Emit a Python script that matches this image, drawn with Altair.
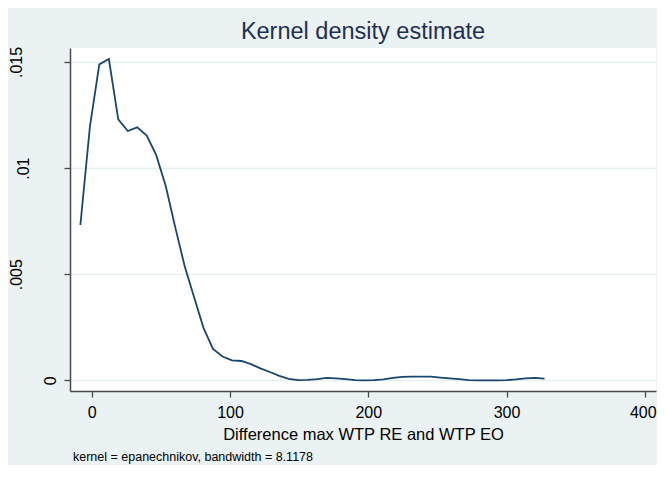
import altair as alt
import pandas as pd

# Evaluation points of the kernel density estimate (x) and density values (y)
x_points = [-8.2, -1.3, 5.5, 12.4, 19.2, 26.1, 32.9, 39.8, 46.6, 53.5,
            60.3, 67.2, 74.0, 80.9, 87.7, 94.6, 101.4, 108.3, 115.1, 122.0,
            128.8, 135.7, 142.5, 149.4, 156.2, 163.1, 169.9, 176.8, 183.6, 190.5,
            197.3, 204.2, 211.0, 217.9, 224.7, 231.6, 238.4, 245.3, 252.1, 259.0,
            265.8, 272.7, 279.5, 286.4, 293.2, 300.1, 306.9, 313.8, 320.6, 327.5]
density = [0.00732, 0.01195, 0.01489, 0.01514, 0.01230, 0.01175, 0.01192, 0.01153, 0.01062, 0.00917,
           0.00724, 0.00539, 0.00393, 0.00246, 0.00148, 0.00112, 0.00094, 0.00091, 0.00076, 0.00056,
           0.00039, 0.00021, 0.00007, 0.00001, 0.00002, 0.00006, 0.00011, 0.00009, 0.00006, 0.00001,
           0.00000, 0.00001, 0.00004, 0.00011, 0.00016, 0.00017, 0.00017, 0.00017, 0.00013, 0.00009,
           0.00006, 0.00001, 0.00000, 0.00000, 0.00000, 0.00001, 0.00004, 0.00009, 0.00011, 0.00008]

x_ticks = [0, 100, 200, 300, 400]
y_ticks = [0, 0.005, 0.01, 0.015]
y_tick_labels = ["0", ".005", ".01", ".015"]

title_text = "Kernel density estimate"
x_title = "Difference max WTP RE and WTP EO"
note_text = "kernel = epanechnikov, bandwidth = 8.1178"

df = pd.DataFrame({"x": x_points, "density": density})

FONT = "Liberation Sans, Arial, Helvetica, sans-serif"

label_expr = " : ".join(
    [f"abs(datum.value - {v}) < 1e-9 ? '{lab}'" for v, lab in zip(y_ticks, y_tick_labels)]
) + " : ''"

y_pad = {
    "condition": [
        {"test": "abs(datum.value - 0) < 1e-9", "value": 9},
        {"test": "abs(datum.value - 0.01) < 1e-9", "value": 36},
    ],
    "value": 43,
}

x_label_offset = {
    "condition": {"test": f"datum.value == {x_ticks[-1]}", "value": -2},
    "value": 0,
}

line = alt.Chart(df).mark_line(color="#1a476f", strokeWidth=1.8, clip=True).encode(
    x=alt.X(
        "x:Q",
        scale=alt.Scale(domain=[-15.7, 408.1], nice=False, zero=False),
        axis=alt.Axis(
            values=x_ticks,
            title=x_title,
            titleFont=FONT,
            titleFontSize=16.5,
            titleFontWeight="normal",
            titleColor="#000000",
            titleBaseline="alphabetic",
            titleY=48.3,
            labelFont=FONT,
            labelFontSize=16,
            labelColor="#000000",
            labelPadding=7,
            labelBaseline="top",
            labelOffset=x_label_offset,
            tickSize=6,
            tickColor="#4a4a4a",
            tickWidth=1.3,
            domainColor="#4a4a4a",
            domainWidth=1.5,
            grid=False,
        ),
    ),
    y=alt.Y(
        "density:Q",
        scale=alt.Scale(domain=[-0.000504, 0.01566], nice=False, zero=False),
        axis=alt.Axis(
            values=y_ticks,
            title=None,
            labelExpr=label_expr,
            labelAngle=270,
            labelAlign="center",
            labelBaseline="alphabetic",
            labelPadding=y_pad,
            labelFont=FONT,
            labelFontSize=16,
            labelColor="#000000",
            tickSize=6,
            tickColor="#4a4a4a",
            tickWidth=1.3,
            domainColor="#4a4a4a",
            domainWidth=1.5,
            grid=True,
            gridColor="#e6eff1",
            gridWidth=1.5,
        ),
    ),
)

note = alt.Chart(pd.DataFrame({"t": [note_text]})).mark_text(
    align="left", baseline="alphabetic", font=FONT, fontSize=12.5, color="#000000"
).encode(x=alt.value(3), y=alt.value(412.7), text="t:N")

chart = alt.layer(line, note).properties(
    width=586,
    height=343,
    title=alt.TitleParams(
        title_text,
        font=FONT,
        fontSize=23.5,
        fontWeight="normal",
        color="#1f3054",
        anchor="middle",
        frame="group",
        baseline="alphabetic",
        offset=6,
        dy=22,
    ),
    autosize=alt.AutoSizeParams(type="none"),
    padding={"left": 62, "top": 40, "right": 1, "bottom": 74},
).configure(background="#eaf2f3").configure_view(fill="white", stroke=None)

chart.save("out.html", embed_options={"renderer": "svg", "actions": False})
